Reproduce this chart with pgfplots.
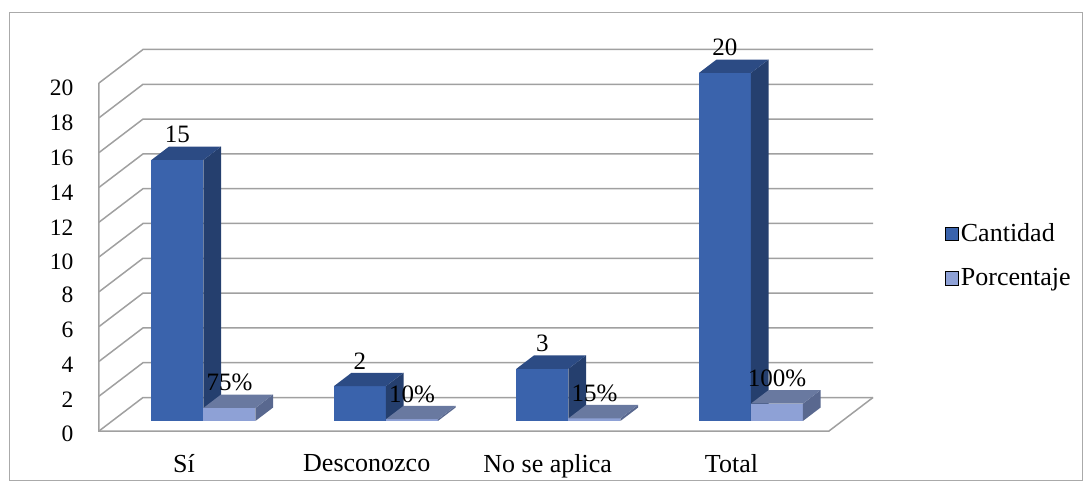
\documentclass[border=0pt]{standalone}
\usepackage{pgfplots}
\pgfplotsset{compat=1.18}
\usepackage{fontspec}
\setmainfont{Liberation Serif}
\newfontfamily\tnr{Liberation Serif}
\definecolor{cantF}{RGB}{58,99,172}
\definecolor{cantS}{RGB}{37,63,110}
\definecolor{cantT}{RGB}{44,75,132}
\definecolor{porF}{RGB}{142,161,214}
\definecolor{porS}{RGB}{89,104,143}
\definecolor{porT}{RGB}{105,121,160}
\definecolor{gridc}{RGB}{160,160,160}
\definecolor{framec}{RGB}{170,170,170}
% x0, x1, height, front, side, top
\newcommand{\cuboid}[6]{%
  \addplot3[fill=#4, draw=none, forget plot] coordinates {(#1,0.3,0) (#2,0.3,0) (#2,0.3,#3) (#1,0.3,#3)} -- cycle;
  \addplot3[fill=#5, draw=none, forget plot] coordinates {(#2,0.3,0) (#2,0.7,0) (#2,0.7,#3) (#2,0.3,#3)} -- cycle;
  \addplot3[fill=#6, draw=none, forget plot] coordinates {(#1,0.3,#3) (#2,0.3,#3) (#2,0.7,#3) (#1,0.7,#3)} -- cycle;
}
\begin{document}
\begin{tikzpicture}
\useasboundingbox (-99pt,-57pt) rectangle (991pt,431pt);
\draw[framec, line width=0.8pt] (-89.5pt,-49pt) rectangle (983pt,419pt);
\begin{axis}[
  anchor=origin, at={(0pt,0pt)},
  x={(182.5pt,0pt)}, y={(44pt,33.5pt)}, z={(0pt,17.4pt)},
  xmin=0, xmax=4, ymin=0, ymax=1, zmin=0, zmax=20,
  axis line style={draw=none},
  major tick length=0pt,
  xtick={0.5,1.5,2.5,3.5},
  xticklabels={Sí,Desconozco,No se aplica,Total},
  ytick=\empty,
  ztick={0,2,...,20},
  /pgf/number format/assume math mode=true,
  x tick label style={font=\tnr\fontsize{26}{26}\selectfont, yshift=-20pt},
  z tick label style={font=\tnr\fontsize{23.5}{23.5}\selectfont, xshift=-22pt},
  clip=false,
  legend style={draw=none, fill=none, at={(1.089,0.46)}, anchor=west,
    font=\tnr\fontsize{26}{26}\selectfont, row sep=21.5pt, legend cell align=left},
  legend image code/.code={\fill[#1] (0pt,-6.7pt) rectangle (13.4pt,6.7pt);},
]
\addlegendimage{fill=cantF}\addlegendentry{Cantidad}
\addlegendimage{fill=porF}\addlegendentry{Porcentaje}
% walls and grid
\pgfplotsinvokeforeach{0,2,...,20}{
  \addplot3[gridc, line width=1.5pt, forget plot] coordinates {(0,0,#1) (0,1,#1) (4,1,#1)};
}
\addplot3[gridc, line width=1.5pt, forget plot] coordinates {(0,0,20) (0,0,0) (4,0,0) (4,1,0)};
% bars: Cantidad then Porcentaje
\cuboid{0.215}{0.5}{15}{cantF}{cantS}{cantT}
\cuboid{0.5}{0.785}{0.75}{porF}{porS}{porT}
\cuboid{1.215}{1.5}{2}{cantF}{cantS}{cantT}
\cuboid{1.5}{1.785}{0.10}{porF}{porS}{porT}
\cuboid{2.215}{2.5}{3}{cantF}{cantS}{cantT}
\cuboid{2.5}{2.785}{0.15}{porF}{porS}{porT}
\cuboid{3.215}{3.5}{20}{cantF}{cantS}{cantT}
\cuboid{3.5}{3.785}{1.00}{porF}{porS}{porT}
% data labels
\addplot3[draw=none, forget plot, nodes near coords, point meta=explicit symbolic,
  nodes near coords align={anchor=base},
  every node near coord/.append style={yshift=17pt, inner sep=0pt, text=black, font=\tnr\fontsize{25}{25}\selectfont}]
  coordinates {(0.3575,0.3,15) [15] (1.3575,0.3,2) [2] (2.3575,0.3,3) [3] (3.3575,0.3,20) [20]
               (0.6425,0.3,0.75) [75\%] (1.6425,0.3,0.10) [10\%] (2.6425,0.3,0.15) [15\%] (3.6425,0.3,1.00) [100\%]};
\end{axis}
\end{tikzpicture}
\end{document}
